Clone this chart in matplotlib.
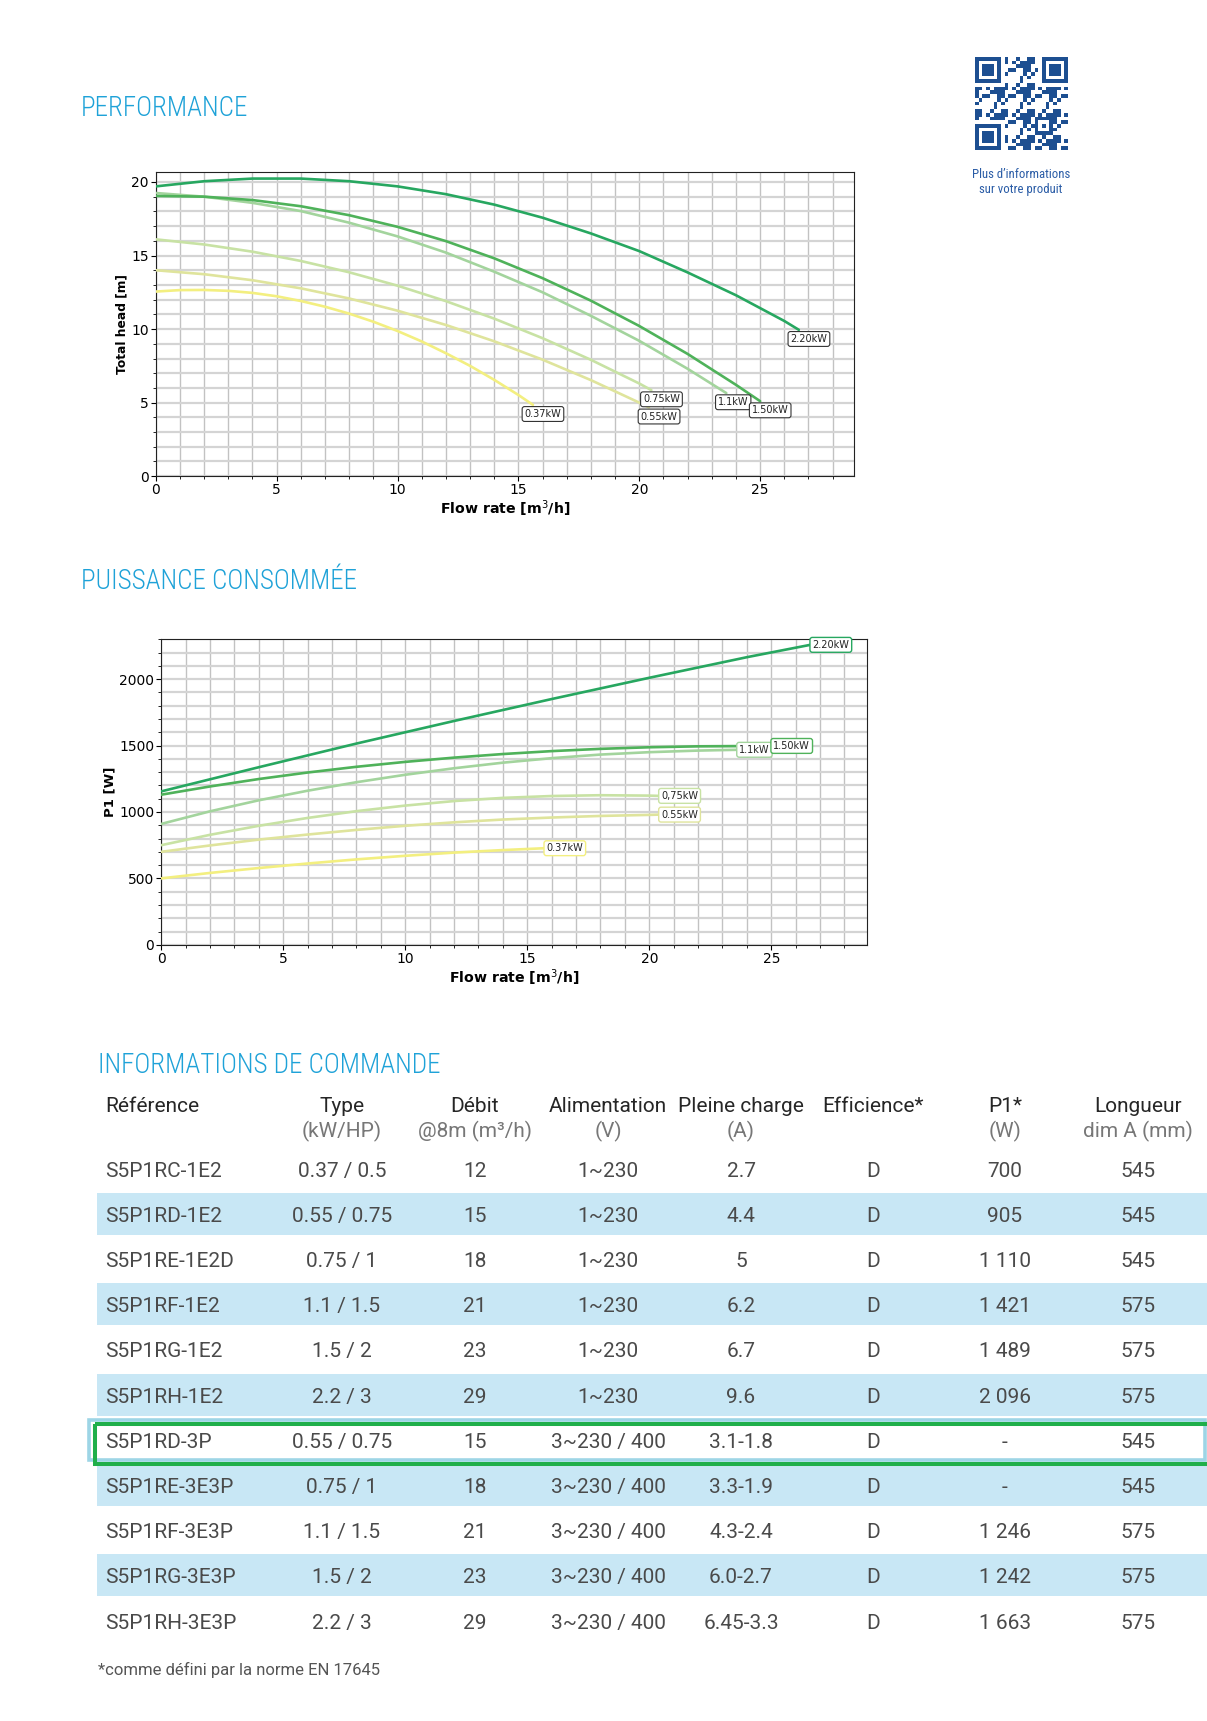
import numpy as np
import matplotlib
matplotlib.use("Agg")
import matplotlib.pyplot as plt
from matplotlib import font_manager
from matplotlib.ticker import MultipleLocator
from matplotlib.patches import Rectangle
from matplotlib.colors import ListedColormap

# page size in pixels (dpi 100)
W, H = 1207, 1721

# ---- data: performance curves (flow rate m3/h -> total head m) ----
powers = ['0.37kW', '0.55kW', '0.75kW', '1.1kW', '1.50kW', '2.20kW']
power_labels_p1 = ['0.37kW', '0.55kW', '0,75kW', '1.1kW', '1.50kW', '2.20kW']
colors = ['#f3ef80', '#dfe49c', '#c8e2a4', '#a3d49d', '#4fb25a', '#27a760']

q_head_037 = [0, 1, 2, 3, 4, 5, 6, 7, 8, 9, 10, 11, 12, 13, 14, 15, 15.6]
h_037 = [12.55, 12.65, 12.66, 12.6, 12.46, 12.23, 11.91, 11.52, 11.05, 10.5, 9.87, 9.16,
         8.36, 7.5, 6.55, 5.52, 4.85]
q_head_055 = [0, 2, 4, 6, 8, 10, 12, 14, 16, 18, 20, 20.4]
h_055 = [14.0, 13.73, 13.32, 12.77, 12.08, 11.25, 10.28, 9.17, 7.92, 6.53, 5.0, 4.68]
q_head_075 = [0, 2, 4, 6, 8, 10, 12, 14, 16, 18, 20, 20.5]
h_075 = [16.1, 15.75, 15.26, 14.63, 13.86, 12.95, 11.9, 10.71, 9.38, 7.91, 6.3, 5.85]
q_head_110 = [0, 2, 4, 6, 8, 10, 12, 14, 16, 18, 20, 22, 23.6]
h_110 = [19.25, 19.0, 18.58, 18.02, 17.23, 16.3, 15.2, 13.9, 12.5, 10.9, 9.2, 7.3, 5.65]
q_head_150 = [0, 2, 4, 6, 8, 10, 12, 14, 16, 18, 20, 22, 24, 25]
h_150 = [19.05, 19.0, 18.77, 18.35, 17.74, 16.95, 15.98, 14.81, 13.46, 11.93, 10.21, 8.31, 6.21, 5.1]
q_head_220 = [0, 2, 4, 6, 8, 10, 12, 14, 16, 18, 20, 22, 24, 26, 26.6]
h_220 = [19.7, 20.05, 20.23, 20.23, 20.05, 19.7, 19.17, 18.46, 17.57, 16.5, 15.3, 13.85, 12.3, 10.55, 9.95]

# ---- data: consumed power (flow rate m3/h -> P1 W) ----
q_p1_037 = [0, 2, 4, 6, 8, 10, 12, 14, 15.7]
p1_037 = [500, 541, 578, 612, 643, 670, 694, 713, 727]
q_p1_055 = [0, 2, 4, 6, 8, 10, 12, 14, 16, 18, 20, 20.4]
p1_055 = [700, 748, 792, 830, 865, 896, 922, 943, 958, 970, 978, 980]
q_p1_075 = [0, 2, 4, 6, 8, 10, 12, 14, 16, 18, 20, 20.4]
p1_075 = [750, 828, 896, 955, 1006, 1048, 1082, 1106, 1120, 1126, 1123, 1121]
q_p1_110 = [0, 2, 4, 6, 8, 10, 12, 14, 16, 18, 20, 22, 23.6]
p1_110 = [910, 1005, 1088, 1160, 1224, 1280, 1329, 1371, 1405, 1432, 1450, 1462, 1468]
q_p1_150 = [0, 2, 4, 6, 8, 10, 12, 14, 16, 18, 20, 22, 25]
p1_150 = [1130, 1192, 1248, 1297, 1340, 1377, 1409, 1436, 1458, 1475, 1487, 1494, 1497]
q_p1_220 = [0, 4, 8, 12, 16, 20, 24, 26.6]
p1_220 = [1155, 1337, 1515, 1685, 1850, 2010, 2165, 2258]

head_q = [q_head_037, q_head_055, q_head_075, q_head_110, q_head_150, q_head_220]
head_h = [h_037, h_055, h_075, h_110, h_150, h_220]
p1_q = [q_p1_037, q_p1_055, q_p1_075, q_p1_110, q_p1_150, q_p1_220]
p1_w = [p1_037, p1_055, p1_075, p1_110, p1_150, p1_220]

# ---- data: ordering table ----
header_top = ['Référence', 'Type', 'Débit', 'Alimentation', 'Pleine charge', 'Efficience*', 'P1*', 'Longueur']
header_unit = ['', '(kW/HP)', '@8m (m³/h)', '(V)', '(A)', '', '(W)', 'dim A (mm)']
references = ['S5P1RC-1E2', 'S5P1RD-1E2', 'S5P1RE-1E2D', 'S5P1RF-1E2', 'S5P1RG-1E2', 'S5P1RH-1E2',
              'S5P1RD-3P', 'S5P1RE-3E3P', 'S5P1RF-3E3P', 'S5P1RG-3E3P', 'S5P1RH-3E3P']
types = ['0.37 / 0.5', '0.55 / 0.75', '0.75 / 1', '1.1 / 1.5', '1.5 / 2', '2.2 / 3',
         '0.55 / 0.75', '0.75 / 1', '1.1 / 1.5', '1.5 / 2', '2.2 / 3']
debits = ['12', '15', '18', '21', '23', '29', '15', '18', '21', '23', '29']
supplies = ['1~230'] * 6 + ['3~230 / 400'] * 5
currents = ['2.7', '4.4', '5', '6.2', '6.7', '9.6', '3.1-1.8', '3.3-1.9', '4.3-2.4', '6.0-2.7', '6.45-3.3']
efficiency = ['D'] * 11
p1_values = ['700', '905', '1 110', '1 421', '1 489', '2 096', '-', '-', '1 246', '1 242', '1 663']
lengths = ['545', '545', '545', '575', '575', '575', '545', '545', '575', '575', '575']
highlight_row = 6

# ---- fonts ----
entries = font_manager.fontManager.ttflist
names = {f.name for f in entries}
if 'Roboto Condensed' in names:
    narrow = dict(family='Roboto Condensed')
    fscale = 1.0
else:
    narrow = dict(family='DejaVu Sans', stretch='condensed')
    fscale = 0.82
body = dict(family='Roboto') if 'Roboto' in names else dict(family='DejaVu Sans')
bscale = 1.0 if 'Roboto' in names else 0.88

plt.rcParams['font.family'] = ['DejaVu Sans']

fig = plt.figure(figsize=(W / 100, H / 100), dpi=100)
fig.patch.set_facecolor('white')

# page layer in pixel coordinates
page = fig.add_axes([0, 0, 1, 1])
page.axis('off')

heading_color = '#1ea2d8'
hfs = 19.5 * fscale
page.text(81, 116, 'PERFORMANCE', color=heading_color, fontsize=hfs, va='baseline', weight='light', **narrow)
page.text(81, 589, 'PUISSANCE CONSOMMÉE', color=heading_color, fontsize=hfs, va='baseline', weight='light', **narrow)
page.text(98, 1073, 'INFORMATIONS DE COMMANDE', color=heading_color, fontsize=hfs, va='baseline', weight='light', **narrow)

# QR code (decorative pattern)
n = 25
ii, jj = np.meshgrid(np.arange(n), np.arange(n), indexing='ij')
qr = (((ii * ii * 31 + jj * jj * 17 + ii * jj * 13 + ii * 5 + jj * 11) % 7) < 3).astype(float)
for r0, c0 in [(0, 0), (0, n - 7), (n - 7, 0)]:
    qr[max(r0 - 1, 0):min(r0 + 8, n), max(c0 - 1, 0):min(c0 + 8, n)] = 0
    qr[r0:r0 + 7, c0:c0 + 7] = 1
    qr[r0 + 1:r0 + 6, c0 + 1:c0 + 6] = 0
    qr[r0 + 2:r0 + 5, c0 + 2:c0 + 5] = 1
qr[n - 9:n - 4, n - 9:n - 4] = 1
qr[n - 8:n - 5, n - 8:n - 5] = 0
qr[n - 7, n - 7] = 1
page.imshow(qr, cmap=ListedColormap(['white', '#1d4f91']),
            extent=(975, 1068, 150, 57), interpolation='nearest', zorder=2)
page.set_xlim(0, W)
page.set_ylim(H, 0)
page.set_aspect('auto')
page.text(1021, 174, 'Plus d\u2019informations', color='#2a5ca6', fontsize=9.2 * fscale,
          ha='center', va='center', **narrow)
page.text(1021, 190, 'sur votre produit', color='#2a5ca6', fontsize=9.2 * fscale,
          ha='center', va='center', **narrow)

# ---- table ----
col_x = [105, 342, 475, 608, 741, 873, 1005, 1138]
row_y0 = 1168.6
row_step = 45.2
band_color = '#c8e7f5'
text_color = '#4a4a4a'
cell_fs = 15 * bscale

page.text(col_x[0], 1106, header_top[0], ha='left', va='center', fontsize=cell_fs,
          color='#262626', **body)
for k in range(1, len(header_top)):
    page.text(col_x[k], 1106, header_top[k], ha='center', va='center', fontsize=cell_fs,
              color='#262626', **body)
    if header_unit[k]:
        page.text(col_x[k], 1131, header_unit[k], ha='center', va='center', fontsize=cell_fs,
                  color='#777777', **body)

columns = [references, types, debits, supplies, currents, efficiency, p1_values, lengths]
for i in range(len(references)):
    yc = row_y0 + i * row_step
    if i % 2 == 1:
        page.add_patch(Rectangle((97, yc - 21), W - 97, 42, facecolor=band_color,
                                 edgecolor='none', zorder=1))
    if i == highlight_row:
        page.add_patch(Rectangle((89, yc - 19.5), W - 89, 42, facecolor='white',
                                 edgecolor='none', zorder=1))
        page.add_patch(Rectangle((88.5, yc - 19.5), 1116, 40, facecolor='none',
                                 edgecolor='#9dd5e6', lw=2.6, zorder=2))
        page.add_patch(Rectangle((94.5, yc - 15.5), W, 40, facecolor='none',
                                 edgecolor='#1faf4a', lw=2.9, zorder=3))
    for k, col in enumerate(columns):
        page.text(col_x[k], yc + 2.5, col[i], ha='left' if k == 0 else 'center', va='center',
                  fontsize=cell_fs, color=text_color, zorder=4, **body)

page.text(98, 1670, '*comme défini par la norme EN 17645', ha='left', va='center',
          fontsize=12 * bscale, color='#555555', **body)


def style_axes(ax, ymajor, yminor):
    ax.xaxis.set_major_locator(MultipleLocator(5))
    ax.xaxis.set_minor_locator(MultipleLocator(1))
    ax.yaxis.set_major_locator(MultipleLocator(ymajor))
    ax.yaxis.set_minor_locator(MultipleLocator(yminor))
    ax.xaxis.grid(True, which='both', color='#c2c2c2', lw=1.0)
    ax.yaxis.grid(True, which='both', color='#d4d4d4', lw=1.6)
    ax.set_axisbelow(True)
    ax.tick_params(which='major', direction='out', length=3.5, width=0.8, labelsize=10, pad=1.5)
    ax.tick_params(which='minor', direction='out', length=2, width=0.6)
    for s in ax.spines.values():
        s.set_linewidth(0.8)
        s.set_color('#222222')
    ax.set_xlabel('Flow rate [m$^3$/h]', fontsize=10.2, weight='bold', labelpad=1)


# ---- performance chart ----
ax1 = fig.add_axes([155.8 / W, 1 - 476.2 / H, 697.9 / W, 303.8 / H])
for q, h, c, lab in zip(head_q, head_h, colors, powers):
    ax1.plot(q, h, color=c, lw=1.9, solid_capstyle='round', solid_joinstyle='round', zorder=3)
    ax1.annotate(lab, xy=(q[-1], h[-1]), xytext=(-6, -3), textcoords='offset points',
                 ha='left', va='top', fontsize=7, color='#222222', zorder=5,
                 bbox=dict(boxstyle='round,pad=0.25', fc='white', ec='#333333', lw=0.8))
ax1.set_xlim(0, 28.87)
ax1.set_ylim(0, 20.65)
style_axes(ax1, 5, 1)
ax1.set_ylabel('Total head [m]', fontsize=8.8, weight='bold', labelpad=2)

# ---- consumed power chart ----
ax2 = fig.add_axes([161.3 / W, 1 - 944.8 / H, 705.6 / W, 306.2 / H])
for q, p, c, lab in zip(p1_q, p1_w, colors, power_labels_p1):
    ax2.plot(q, p, color=c, lw=1.9, solid_capstyle='round', solid_joinstyle='round', zorder=3)
    ax2.annotate(lab, xy=(q[-1], p[-1]), xytext=(1.5, 0), textcoords='offset points',
                 ha='left', va='center', fontsize=7, color='#222222', zorder=5,
                 bbox=dict(boxstyle='round,pad=0.25', fc='white', ec=c, lw=1.0))
ax2.set_xlim(0, 28.92)
ax2.set_ylim(0, 2305)
style_axes(ax2, 500, 100)
ax2.set_ylabel('P1 [W]', fontsize=9.5, weight='bold', labelpad=2)

fig.savefig('out.png', dpi=100)
